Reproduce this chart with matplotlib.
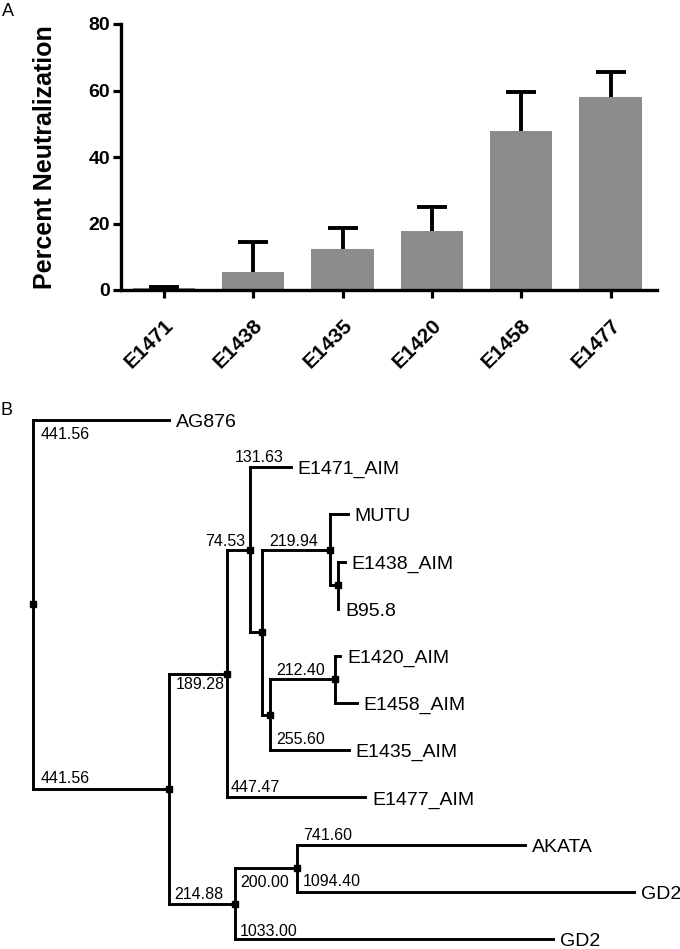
import numpy as np
import matplotlib
matplotlib.use("Agg")
import matplotlib.pyplot as plt
from matplotlib.transforms import ScaledTranslation

plt.rcParams['font.family'] = ['Liberation Sans', 'DejaVu Sans']

# Panel A data
isolates = ["E1471", "E1438", "E1435", "E1420", "E1458", "E1477"]
neutralization = [0.5, 5.5, 12.3, 17.8, 47.7, 58.0]
neutralization_err = [0.5, 9.0, 6.2, 7.3, 11.8, 7.5]

# Panel B data: tree in Newick form. Branch lengths written with two
# decimals are printed on the figure; the whole-number ones were read off
# the drawing (not labelled in the original).
tree_newick = ("(AG876:441.56,(((E1471_AIM:131.63,((MUTU:59,(E1438_AIM:23,B95.8:2):26):219.94,"
               "((E1420_AIM:16,E1458_AIM:69):212.40,E1435_AIM:255.60):26):38):74.53,"
               "E1477_AIM:447.47):189.28,((AKATA:741.60,GD2:1094.40):200.00,GD2:1033.00):214.88):441.56);")

# label offsets (px) for printed branch lengths, in preorder
# dy > 0: baseline above branch, dy < 0: top of text below branch
label_offsets = [(8, -7), (8, 6), (7, -3), (-22, 4), (-16, 5), (7, 4), (6, 4),
                 (6, 6), (3, 5), (5, 5), (5, -7), (6, 5), (6, 6), (5, 3)]

W, H = 680, 949
fig = plt.figure(figsize=(W / 100, H / 100), dpi=100)

# ---------------- Panel A ----------------
ax = fig.add_axes([121 / W, (H - 290) / H, (657 - 121) / W, 266 / H])
xpos = np.arange(len(isolates))
vals = np.array(neutralization)
errs = np.array(neutralization_err)
ax.bar(xpos, vals, width=0.7, color='#8c8c8c', zorder=2)
# upper error bars only (no cap at the bar top)
ax.vlines(xpos, vals, vals + errs, color='black', lw=2.8, zorder=3)
ax.plot(xpos, vals + errs, ls='none', marker='_', markersize=21.6, mew=2.8,
        color='black', zorder=3)
ax.set_xlim(-0.48, 5.52)
ax.set_ylim(0, 80)
ax.set_yticks([0, 20, 40, 60, 80])
ax.set_xticks(xpos)
ax.set_xticklabels(isolates, rotation=45, ha='right', va='top', rotation_mode='anchor',
                   fontsize=15, fontweight='bold')
shift = ScaledTranslation(-16 / 100, 0, fig.dpi_scale_trans)
for lab in ax.get_xticklabels():
    lab.set_transform(lab.get_transform() + shift)
for lab in ax.get_yticklabels():
    lab.set_fontsize(14)
    lab.set_fontweight('bold')
ax.tick_params(axis='both', direction='out', length=5.8, width=2.3)
ax.tick_params(axis='y', pad=2)
ax.tick_params(axis='x', pad=12.5)
for s in ['top', 'right']:
    ax.spines[s].set_visible(False)
for s in ['left', 'bottom']:
    ax.spines[s].set_linewidth(2.4)
ax.set_ylabel("Percent Neutralization", fontsize=18, fontweight='bold')
ax.yaxis.set_label_coords((57 - 121) / (657 - 121), 0.5)

fig.text(2 / W, 1 - 3 / H, "A", fontsize=13, va='top', ha='left')
fig.text(0 / W, 1 - 402 / H, "B", fontsize=13, va='top', ha='left')


# ---------------- Panel B ----------------
def parse(s, i=0):
    node = {'children': [], 'name': '', 'len': 0.0, 'lenstr': ''}
    if s[i] == '(':
        i += 1
        while True:
            child, i = parse(s, i)
            node['children'].append(child)
            if s[i] == ',':
                i += 1
                continue
            i += 1
            break
    j = i
    while s[i] not in ':,);':
        i += 1
    node['name'] = s[j:i]
    if s[i] == ':':
        i += 1
        j = i
        while s[i] not in ',);':
            i += 1
        node['lenstr'] = s[j:i]
        node['len'] = float(s[j:i])
    return node, i


root, _ = parse(tree_newick)
root['len'] = 0.0

leaf_counter = [0]


def layout(node, x0):
    node['x'] = x0 + node['len']
    if not node['children']:
        node['y'] = leaf_counter[0]
        leaf_counter[0] += 1
    else:
        for c in node['children']:
            layout(c, node['x'])
        node['y'] = 0.5 * (node['children'][0]['y'] + node['children'][-1]['y'])


layout(root, 0.0)

px_per_unit = 0.308
row_px = 47.18
top_px, bot_px = 380, 949
axb = fig.add_axes([0, 0, 1, (bot_px - top_px) / H])
axb.set_xlim(-33 / px_per_unit, (W - 33) / px_per_unit)
axb.set_ylim((bot_px - 420) / row_px, (top_px - 420) / row_px)
axb.axis('off')

lw = 2.1
leaf_fs = 14
branch_labels = []


def draw(node):
    if not node['children']:
        axb.annotate(node['name'], (node['x'], node['y']),
                     xytext=(7, -0.358 * leaf_fs * 100 / 72),
                     textcoords='offset pixels', fontsize=leaf_fs, ha='left', va='baseline')
        return
    ys = [c['y'] for c in node['children']]
    axb.plot([node['x'], node['x']], [min(ys), max(ys)], color='black', lw=lw,
             solid_capstyle='projecting')
    for c in node['children']:
        axb.plot([node['x'], c['x']], [c['y'], c['y']], color='black', lw=lw,
                 solid_capstyle='projecting')
        if '.' in c['lenstr']:
            branch_labels.append((node['x'], c['y'], "%.2f" % c['len']))
        draw(c)
    axb.plot(node['x'], node['y'], marker='s', color='black', markersize=4.5)


draw(root)

for (bx, by, txt), (dx, dy) in zip(branch_labels, label_offsets):
    axb.annotate(txt, (bx, by), xytext=(dx, dy), textcoords='offset pixels', fontsize=11.5,
                 ha='left', va='baseline' if dy > 0 else 'top')

fig.savefig("out.png", dpi=100)
